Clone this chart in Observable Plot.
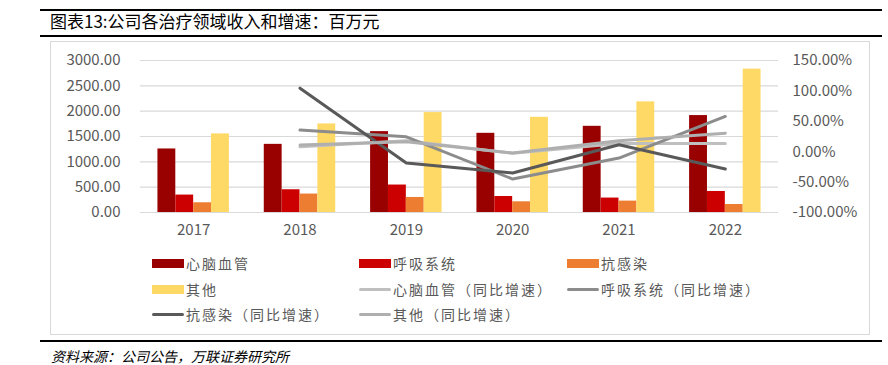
<!DOCTYPE html>
<html><head><meta charset="utf-8">
<script src="https://cdn.jsdelivr.net/npm/d3@7"></script>
<script src="https://cdn.jsdelivr.net/npm/@observablehq/plot@0.6"></script>
<style>
body{margin:0;background:#fff;font-family:"Noto Sans CJK SC","Noto Sans",sans-serif;}
#page{position:relative;width:888px;height:365px;overflow:hidden;background:#fff;}
.hline{position:absolute;left:40px;width:842px;height:2px;background:#000;}
#title{position:absolute;left:50px;top:8px;font-size:17px;line-height:26px;color:#000;white-space:nowrap;}
#box{position:absolute;left:50px;top:41px;width:818px;height:292px;border:1px solid #D9D9D9;}
#chart{position:absolute;left:0;top:42px;}
.item{position:absolute;display:flex;align-items:center;height:20px;font-size:14px;letter-spacing:2px;color:#595959;white-space:nowrap;}
.sw{width:32px;height:9px;margin-right:2px;}
.ln{width:32px;height:3px;border-radius:2px;margin-right:2px;}
#source{position:absolute;left:51px;top:346px;font-size:14px;line-height:20px;font-style:italic;color:#000;white-space:nowrap;}
</style>
</head><body>
<div id="page">
  <div class="hline" style="top:9px"></div>
  <div id="title"></div>
  <div class="hline" style="top:35px"></div>
  <div id="box"></div>
  <div id="chart"></div>
  <div id="legend"></div>
  <div class="hline" style="top:340px"></div>
  <div id="source"></div>
</div>
<script>
const titleText = "图表13:公司各治疗领域收入和增速：百万元";
const sourceText = "资料来源：公司公告，万联证券研究所";
const years = [2017, 2018, 2019, 2020, 2021, 2022];
const barNames = ["心脑血管", "呼吸系统", "抗感染", "其他"];
const barColors = ["#990000", "#CC0000", "#ED7D31", "#FFD966"];
const cardio = [1254, 1345, 1596, 1563, 1701, 1913];
const resp = [344, 449, 542, 316, 285, 415];
const anti = [192, 364, 297, 211, 225, 158];
const other = [1551, 1748, 1972, 1879, 2184, 2829];
const growthYears = [2018, 2019, 2020, 2021, 2022];
const lineNames = ["心脑血管（同比增速）", "呼吸系统（同比增速）", "抗感染（同比增速）", "其他（同比增速）"];
const lineColors = ["#BFBFBF", "#8C8C8C", "#595959", "#AFAFAF"];
const cardioG = [8.0, 18.0, -2.5, 13.5, 13.5];
const respG = [35.5, 24.5, -45.0, -10.5, 58.0];
const antiG = [104.5, -18.5, -35.0, 11.5, -28.5];
const otherG = [11.0, 16.5, -2.0, 18.0, 30.5];
const leftTicks = [0, 500, 1000, 1500, 2000, 2500, 3000];
const rightTicks = [-100, -50, 0, 50, 100, 150];

document.getElementById("title").textContent = titleText;
document.getElementById("source").textContent = sourceText;

const barSeries = [cardio, resp, anti, other];
const growthSeries = [cardioG, respG, antiG, otherG];
const bars = [];
barSeries.forEach((vals, i) => years.forEach((yr, j) => bars.push({series: barNames[i], i, year: yr, value: vals[j]})));
const lines = [];
growthSeries.forEach((vals, i) => growthYears.forEach((yr, j) => lines.push({series: lineNames[i], year: yr, pct: vals[j]})));

// map right-axis percent onto the left-axis scale: -100% -> 0, 150% -> 3000
const pMin = rightTicks[0], pMax = rightTicks[rightTicks.length - 1];
const lMax = leftTicks[leftTicks.length - 1];
const toLeft = p => (p - pMin) / (pMax - pMin) * lMax;
const toPct = v => v / lMax * (pMax - pMin) + pMin;

const W = 0.168; // bar width in band (year) units
const chart = Plot.plot({
  width: 888, height: 200,
  marginLeft: 140, marginRight: 110, marginTop: 18, marginBottom: 30,
  x: {type: "linear", domain: [years[0] - 0.5, years[years.length - 1] + 0.5], label: null},
  y: {domain: [0, lMax], label: null},
  color: {domain: [...barNames, ...lineNames], range: [...barColors, ...lineColors]},
  style: {fontFamily: '"Noto Sans CJK SC", "Noto Sans", sans-serif', fontSize: "15px", color: "#595959", background: "transparent"},
  marks: [
    Plot.ruleY(leftTicks, {stroke: "#D9D9D9", strokeWidth: 1.2}),
    Plot.rect(bars, {x1: d => d.year + (d.i - 2) * W, x2: d => d.year + (d.i - 1) * W, y1: 0, y2: "value", fill: "series"}),
    Plot.line(lines, {x: "year", y: d => toLeft(d.pct), z: "series", stroke: "series", strokeWidth: 3, strokeLinejoin: "round", strokeLinecap: "round"}),
    Plot.axisY(leftTicks, {anchor: "left", tickSize: 0, tickPadding: 20, tickFormat: d => d.toFixed(2), label: null}),
    Plot.axisY(rightTicks.map(toLeft), {anchor: "right", tickSize: 0, tickPadding: 14, tickFormat: d => toPct(d).toFixed(2) + "%", label: null}),
    Plot.axisX(years, {anchor: "bottom", tickSize: 0, tickPadding: 12, tickFormat: d => String(d), label: null})
  ]
});
document.getElementById("chart").appendChild(chart);

// legend
const legendItems = [
  ...barNames.map((n, i) => ({name: n, color: barColors[i], kind: "bar"})),
  ...lineNames.map((n, i) => ({name: n, color: lineColors[i], kind: "line"}))
];
const colX = [152, 359, 567], rowY = [263, 289, 314];
const leg = document.getElementById("legend");
legendItems.forEach((it, k) => {
  const d = document.createElement("div");
  d.className = "item";
  d.style.left = colX[k % 3] + "px";
  d.style.top = (rowY[Math.floor(k / 3)] - 10) + "px";
  const s = document.createElement("span");
  s.className = it.kind === "bar" ? "sw" : "ln";
  s.style.background = it.color;
  const t = document.createElement("span");
  t.textContent = it.name;
  d.appendChild(s); d.appendChild(t);
  leg.appendChild(d);
});
</script>
</body></html>
